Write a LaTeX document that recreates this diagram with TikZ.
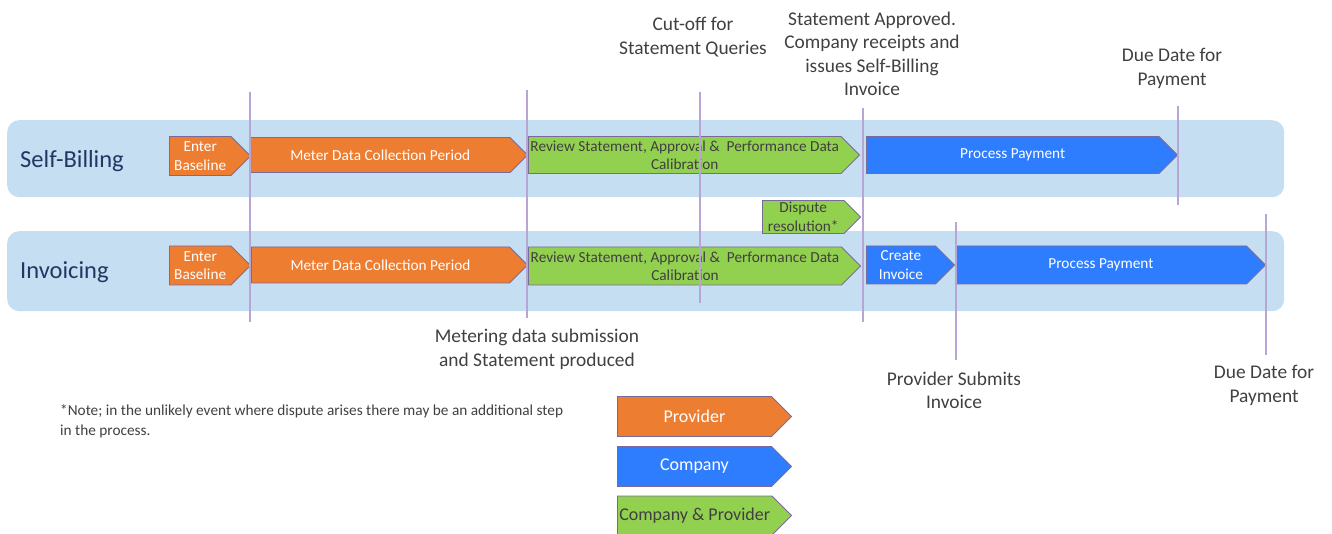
\documentclass[tikz,border=0pt]{standalone}
\usepackage{fontspec}
\setmainfont{Carlito}
\usetikzlibrary{shapes.symbols}

\definecolor{lanefill}{HTML}{C5DEF1}
\definecolor{provfill}{HTML}{ED7D31}
\definecolor{compfill}{HTML}{2E7DFF}
\definecolor{bothfill}{HTML}{92D050}
\definecolor{stageedge}{HTML}{7A6A9A}
\definecolor{lineclr}{HTML}{B7A5D4}
\definecolor{txt}{HTML}{404040}
\definecolor{navy}{HTML}{1F3864}

\begin{document}
\begin{tikzpicture}[
    x=1pt, y=-1pt,
    every node/.style={align=center, text=txt},
    lane/.style={fill=lanefill, rounded corners=12pt, inner sep=0pt, anchor=north west, minimum width=1277pt},
    lanetext/.style={anchor=west, inner sep=0pt, text=navy, font=\fontsize{24.5}{28}\selectfont},
    stage/.style={signal, signal to=east, draw=stageedge, line width=0.9pt, inner sep=0pt, anchor=west, font=\fontsize{15.3}{18.5}\selectfont},
    provider/.style={stage, fill=provfill, text=white},
    company/.style={stage, fill=compfill, text=white},
    both/.style={stage, fill=bothfill, text=txt},
    legendbox/.style={minimum height=40pt, minimum width=174pt, font=\fontsize{18}{20}\selectfont},
    milestone/.style={draw=lineclr, line width=1.2pt},
    event/.style={font=\fontsize{19.4}{23.5}\selectfont}
]
\useasboundingbox (0,0) rectangle (1332,534);

% Lanes
\node[lane, minimum height=77pt] (sblane) at (7,120) {};
\node[lane, minimum height=80pt] (invlane) at (7,231) {};
\node[lanetext] (sbtext) at (20,161) {Self-Billing};
\node[lanetext] (invtext) at (20,272) {Invoicing};

% Self-Billing stages
\node[provider, minimum width=81pt, minimum height=39pt] (enter1) at (169,156) {Enter\\Baseline};
\node[provider, minimum width=277pt, minimum height=35pt] (meter1) at (250,155) {Meter Data Collection Period};
\node[both, minimum width=331pt, minimum height=37pt] (review1) at (528,155) {Review Statement, Approval \&\ \ Performance Data\\Calibration};
\node[company, minimum width=311pt, minimum height=37pt] (pay1) at (866,155) {Process Payment};
\node[both, minimum width=98pt, minimum height=33pt] (dispute) at (762,217) {Dispute\\resolution*};

% Invoicing stages
\node[provider, minimum width=81pt, minimum height=39pt] (enter2) at (169,265.5) {Enter\\Baseline};
\node[provider, minimum width=276pt, minimum height=36pt] (meter2) at (251,265) {Meter Data Collection Period};
\node[both, minimum width=332pt, minimum height=38pt] (review2) at (528,266) {Review Statement, Approval \&\ \ Performance Data\\Calibration};
\node[company, minimum width=88pt, minimum height=38pt] (invoice) at (866,265) {Create\\Invoice};
\node[company, minimum width=310pt, minimum height=38pt] (pay2) at (955,265) {Process Payment};

% Milestones
\foreach \x/\ya/\yb in {250/92/322, 527/90/318, 700/92/303, 863/108/322, 1178/106/205, 956/222/360, 1266/214/355}
  \draw[milestone] (\x,\ya) -- (\x,\yb);

% Event labels
\node[event] (cutoff) at (693,37) {Cut-off for\\Statement Queries};
\node[event] (approved) at (872,54) {Statement Approved.\\Company receipts and\\issues Self-Billing\\Invoice};
\node[event] (due1) at (1172,68.5) {Due Date for\\Payment};
\node[event] (metering) at (537,349.5) {Metering data submission\\and Statement produced};
\node[event] (submits) at (954,390.5) {Provider Submits\\Invoice};
\node[event] (due2) at (1264,385.5) {Due Date for\\Payment};

% Note
\node[anchor=west, align=left, inner sep=0pt, font=\fontsize{15.3}{20}\selectfont] (note) at (60,421) {*Note; in the unlikely event where dispute arises there may be an additional step\\in the process.};

% Legend
\node[provider, legendbox] (legprov) at (617,416.5) {Provider};
\node[company, legendbox] (legcomp) at (617,466.5) {Company};
\node[both, legendbox, minimum height=39pt] (legboth) at (617,515.5) {Company \& Provider};

\end{tikzpicture}
\end{document}
